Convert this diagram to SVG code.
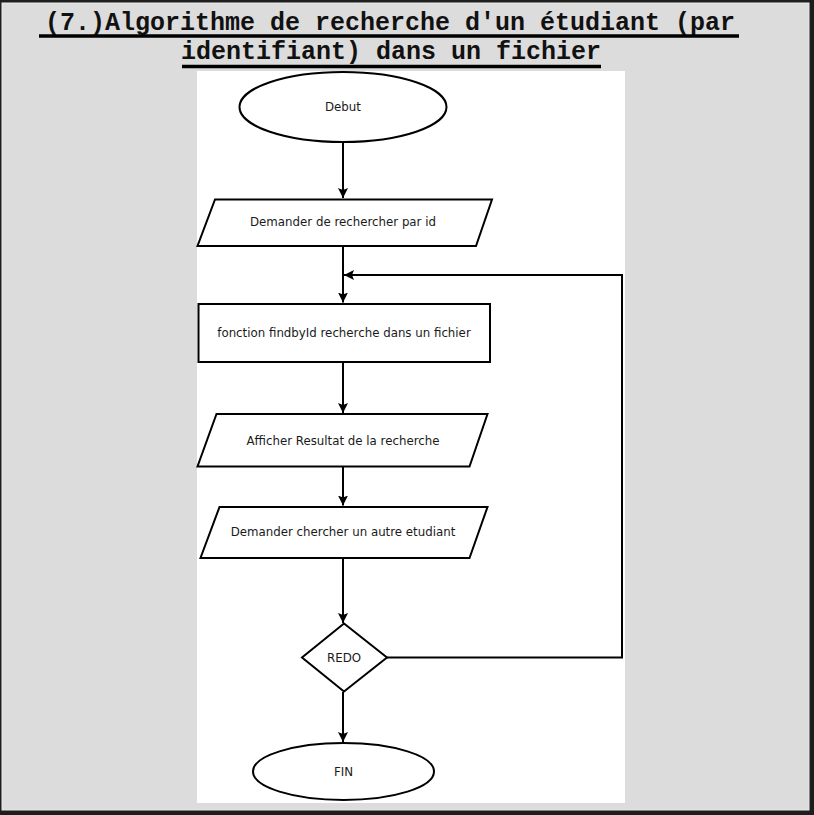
<svg xmlns="http://www.w3.org/2000/svg" width="814" height="815" viewBox="0 0 814 815">
<style>
.shape{fill:#ffffff;stroke:#000000;stroke-width:2}
.lbl{font-family:"DejaVu Sans",Verdana,sans-serif;font-size:11.8px;fill:#1a1a1a;text-anchor:middle;dominant-baseline:central}
.title{font-family:"Liberation Mono","Courier New",monospace;font-weight:bold;font-size:25px;fill:#111111;text-anchor:middle}
.conn{fill:none;stroke:#000000;stroke-width:2}
</style>
<defs>
<marker id="arrow" viewBox="0 0 10 10" refX="10" refY="5" markerWidth="10" markerHeight="10" markerUnits="userSpaceOnUse" orient="auto">
<path d="M0,0 L10,5 L0,10 L2,5 Z" fill="#000000"/>
</marker>
</defs>
<rect x="0" y="0" width="814" height="815" fill="#1e1e1e"/>
<rect x="2" y="3" width="807" height="807" fill="#dcdcdc" stroke="#e9e9e9" stroke-width="1"/>
<g id="title">
<text class="title" x="390" y="30">(7.)Algorithme de recherche d'un étudiant (par</text>
<text class="title" x="391" y="59">identifiant) dans un fichier</text>
<line x1="39" y1="36" x2="739" y2="36" stroke="#000" stroke-width="3.5"/>
<line x1="182" y1="66.5" x2="601" y2="66.5" stroke="#000" stroke-width="3.5"/>
</g>
<rect x="197" y="71" width="428" height="732" fill="#ffffff"/>
<g id="connectors">
<line class="conn" x1="343" y1="142" x2="343" y2="198" marker-end="url(#arrow)"/>
<line class="conn" x1="343" y1="246" x2="343" y2="302.5" marker-end="url(#arrow)"/>
<polyline class="conn" points="387,657.5 622,657.5 622,275 344,275" marker-end="url(#arrow)"/>
<line class="conn" x1="343" y1="362" x2="343" y2="413" marker-end="url(#arrow)"/>
<line class="conn" x1="343" y1="467" x2="343" y2="505.5" marker-end="url(#arrow)"/>
<line class="conn" x1="343" y1="558" x2="343" y2="623" marker-end="url(#arrow)"/>
<line class="conn" x1="343" y1="692" x2="343" y2="742" marker-end="url(#arrow)"/>
</g>
<g id="debut">
<ellipse class="shape" cx="343" cy="107" rx="103.5" ry="35"/>
<text class="lbl" x="343" y="107">Debut</text>
</g>
<g id="demander-id">
<polygon class="shape" points="215,199.5 492,199.5 476,246 197.5,246"/>
<text class="lbl" x="343" y="222">Demander de rechercher par id</text>
</g>
<g id="findbyid">
<rect class="shape" x="198.5" y="304" width="291.5" height="58"/>
<text class="lbl" x="344" y="333">fonction findbyId recherche dans un fichier</text>
</g>
<g id="afficher">
<polygon class="shape" points="216.5,414 487.5,414 469.5,466.5 197.5,466.5"/>
<text class="lbl" x="343" y="441">Afficher Resultat de la recherche</text>
</g>
<g id="demander-autre">
<polygon class="shape" points="219.5,507 487.5,507 469.5,558 200.5,558"/>
<text class="lbl" x="343" y="532">Demander chercher un autre etudiant</text>
</g>
<g id="redo">
<polygon class="shape" points="344,623.5 387,657.5 344,691.5 302,657.5"/>
<text class="lbl" x="344" y="658">REDO</text>
</g>
<g id="fin">
<ellipse class="shape" cx="343.5" cy="771.5" rx="90.5" ry="28.5"/>
<text class="lbl" x="343.5" y="771.5">FIN</text>
</g>
</svg>
